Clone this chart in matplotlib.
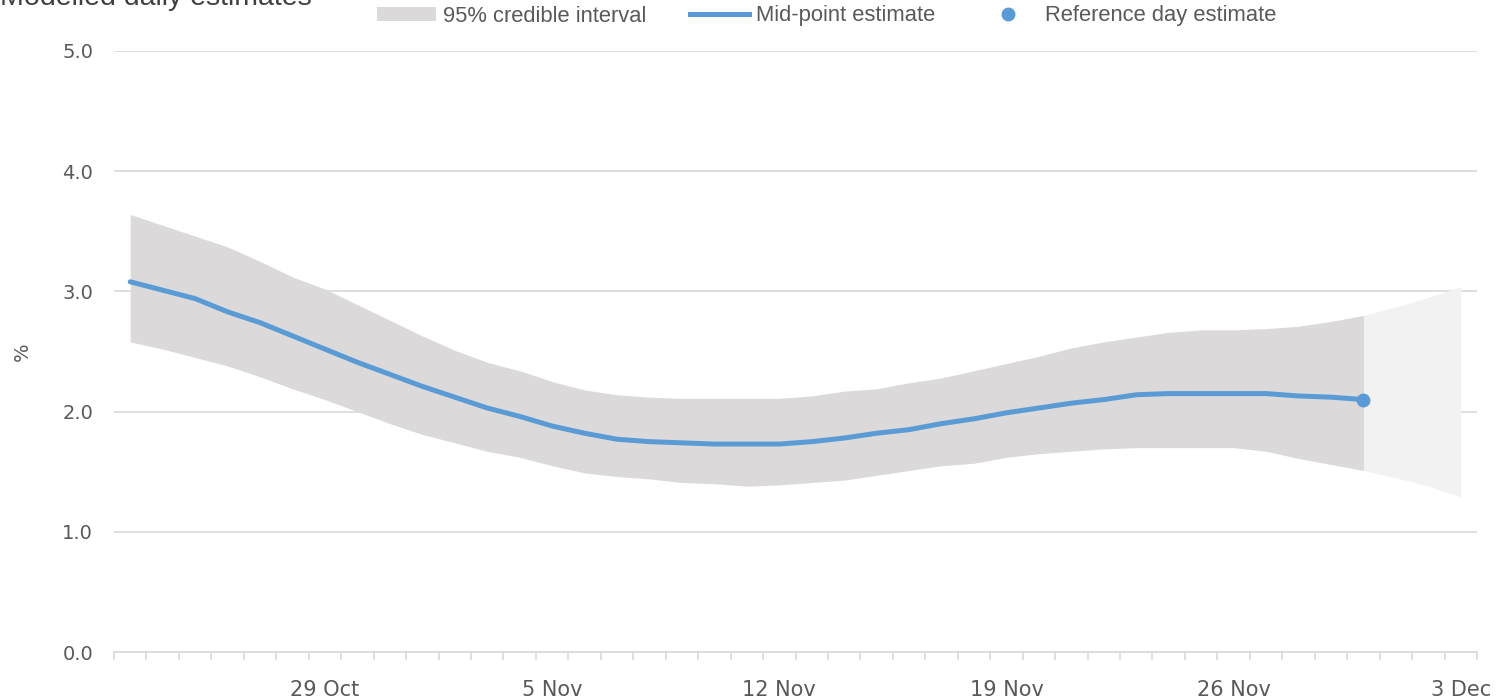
import matplotlib
matplotlib.use("Agg")
import matplotlib.pyplot as plt
import matplotlib.dates as mdates
from matplotlib.patches import Patch
from matplotlib.lines import Line2D
import numpy as np
import pandas as pd

# daily dates, 23 Oct to 3 Dec
dates = pd.date_range("2020-10-23", "2020-12-03", freq="D")

# modelled estimates (%) up to the reference day (30 Nov)
mid = [3.08, 3.01, 2.94, 2.83, 2.74, 2.63, 2.52, 2.41, 2.31, 2.21,
       2.12, 2.03, 1.96, 1.88, 1.82, 1.77, 1.75, 1.74, 1.73, 1.73,
       1.73, 1.75, 1.78, 1.82, 1.85, 1.90, 1.94, 1.99, 2.03, 2.07,
       2.10, 2.14, 2.15, 2.15, 2.15, 2.15, 2.13, 2.12, 2.10]
upper = [3.64, 3.55, 3.46, 3.37, 3.25, 3.12, 3.02, 2.89, 2.76, 2.63,
         2.51, 2.41, 2.34, 2.25, 2.18, 2.14, 2.12, 2.11, 2.11, 2.11,
         2.11, 2.13, 2.17, 2.19, 2.24, 2.28, 2.34, 2.40, 2.46, 2.53,
         2.58, 2.62, 2.66, 2.68, 2.68, 2.69, 2.71, 2.75, 2.80]
lower = [2.58, 2.52, 2.45, 2.38, 2.29, 2.19, 2.10, 2.00, 1.90, 1.81,
         1.74, 1.67, 1.62, 1.55, 1.49, 1.46, 1.44, 1.41, 1.40, 1.38,
         1.39, 1.41, 1.43, 1.47, 1.51, 1.55, 1.57, 1.62, 1.65, 1.67,
         1.69, 1.70, 1.70, 1.70, 1.70, 1.67, 1.61, 1.56, 1.51]

# interval after the reference day (30 Nov to 3 Dec)
proj_upper = [2.80, 2.87, 2.95, 3.04]
proj_lower = [1.51, 1.45, 1.38, 1.29]

ref_value = mid[-1]

tick_labels = ["29 Oct", "5 Nov", "12 Nov", "19 Nov", "26 Nov", "3 Dec"]
tick_dates = pd.to_datetime(["2020-10-29", "2020-11-05", "2020-11-12",
                             "2020-11-19", "2020-11-26", "2020-12-03"])

n = len(mid)
band_dates = dates[:n]
proj_dates = dates[n - 1:]

grey = "#595959"
grid_c = "#D9D9D9"
blue = "#5B9BD5"

fig = plt.figure(figsize=(14.97, 7.0), dpi=100)
ax = fig.add_axes([114 / 1497, 1 - 652 / 700, (1477 - 114) / 1497, (652 - 51) / 700])

ax.fill_between(proj_dates, proj_lower, proj_upper, color="#F2F2F2", lw=0, zorder=1)
ax.fill_between(band_dates, lower, upper, color="#DBD9DA", lw=0, zorder=2)
ax.plot(band_dates, mid, color=blue, lw=3.6, solid_capstyle="round", zorder=3)
ax.plot([band_dates[-1]], [ref_value], "o", color=blue, ms=9, zorder=4)

# axes
start = mdates.date2num(dates[0])
end = mdates.date2num(dates[-1])
ax.set_xlim(start - 0.5, end + 0.5)
ax.set_ylim(0, 5)
ax.set_yticks(np.arange(0, 5.01, 1.0))
ax.set_yticklabels([f"{v:.1f}" for v in np.arange(0, 5.01, 1.0)])
ax.set_xticks(mdates.date2num(tick_dates))
ax.set_xticklabels(tick_labels)
ax.set_xticks(np.arange(start - 0.5, end + 1.0, 1.0), minor=True)

ax.grid(axis="y", color=grid_c, lw=1.2)
ax.set_axisbelow(True)
for s in ["top", "right", "left"]:
    ax.spines[s].set_visible(False)
ax.spines["bottom"].set_color(grid_c)
ax.spines["bottom"].set_linewidth(1.2)
ax.spines["bottom"].set_zorder(0)

ax.tick_params(axis="y", length=0, pad=15, labelsize=14, labelcolor=grey)
ax.tick_params(axis="x", which="major", length=0, pad=20, labelsize=15, labelcolor=grey)
ax.tick_params(axis="x", which="minor", length=6, width=1.2, color=grid_c)

ax.set_ylabel("%", fontsize=14, color=grey, labelpad=22)

# title, partly off the top edge as in the original
fig.text(0.0, 1 - 5 / 700, "Modelled daily estimates", fontsize=20.5,
         family="Liberation Sans", color="#404040", ha="left", va="baseline")

handles = [
    Patch(facecolor="#DBD9DA", edgecolor="none", label="95% credible interval"),
    Line2D([0], [0], color=blue, lw=3.6, label="Mid-point estimate"),
    Line2D([0], [0], color=blue, lw=0, marker="o", ms=9, label="Reference day estimate"),
]
leg = fig.legend(handles=handles, loc="center", bbox_to_anchor=(0.552, 1 - 16 / 700),
                 ncol=3, frameon=False, handlelength=2.7, handleheight=0.6,
                 handletextpad=0.3, columnspacing=2.0,
                 prop={"family": "Liberation Sans", "size": 15.8})
for t in leg.get_texts():
    t.set_color(grey)

fig.savefig("out.png", dpi=100)
